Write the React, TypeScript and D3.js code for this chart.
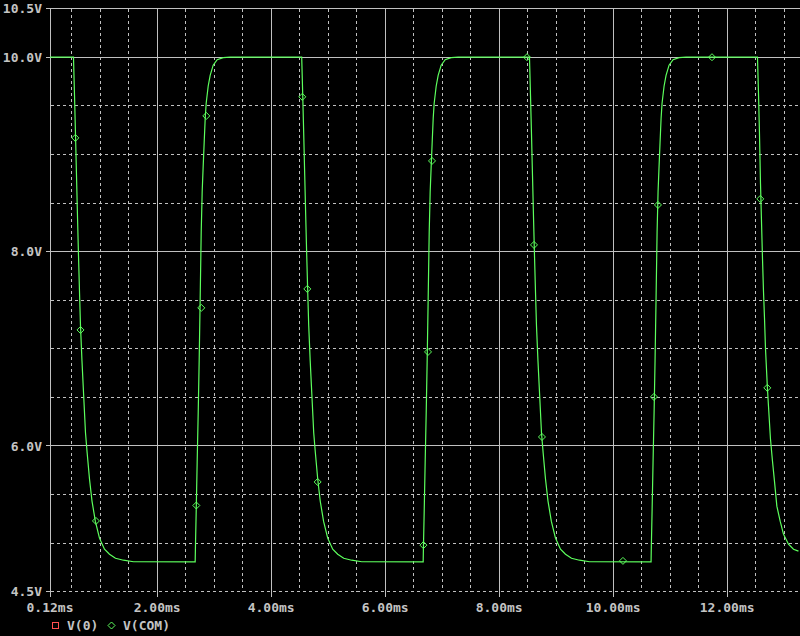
import React from 'react';
import * as d3 from 'd3';

const W = 800;
const H = 636;

// Axis ticks
const xTickValues = [0.12, 2, 4, 6, 8, 10, 12];
const xTickLabels = ['0.12ms', '2.00ms', '4.00ms', '6.00ms', '8.00ms', '10.00ms', '12.00ms'];
const xMinorGrid = [0.5, 1, 1.5, 2.5, 3, 3.5, 4.5, 5, 5.5, 6.5, 7, 7.5, 8.5, 9, 9.5, 10.5, 11, 11.5, 12.5, 13];
const yTickValues = [4.5, 6, 8, 10, 10.5];
const yTickLabels = ['4.5V', '6.0V', '8.0V', '10.0V', '10.5V'];
const ySolidGrid = [6, 8, 10, 10.5];
const yMinorGrid = [4.5, 5, 5.5, 6.5, 7, 7.5, 8.5, 9, 9.5];

// V(COM) trace (time in ms, voltage in V)
const timeMs = [
  0.12,
  0.532, 0.550, 0.567, 0.585, 0.602, 0.620, 0.637, 0.655, 0.681, 0.711, 0.743, 0.772, 0.813, 0.857, 0.915, 0.988, 1.076, 1.164, 1.269, 1.409, 1.585,
  2.667, 2.672, 2.685, 2.702, 2.720, 2.737, 2.755, 2.773, 2.790, 2.808, 2.825, 2.843, 2.860, 2.895, 2.930, 2.983, 3.053, 3.158, 3.281,
  4.536, 4.554, 4.571, 4.589, 4.606, 4.624, 4.641, 4.659, 4.685, 4.715, 4.747, 4.776, 4.817, 4.861, 4.919, 4.992, 5.080, 5.168, 5.273, 5.413, 5.589,
  6.667, 6.672, 6.685, 6.702, 6.720, 6.737, 6.755, 6.773, 6.790, 6.808, 6.825, 6.843, 6.860, 6.895, 6.930, 6.983, 7.053, 7.158, 7.281,
  8.532, 8.550, 8.567, 8.585, 8.602, 8.620, 8.637, 8.655, 8.681, 8.711, 8.743, 8.772, 8.813, 8.857, 8.915, 8.988, 9.076, 9.164, 9.269, 9.409, 9.585,
  10.665, 10.670, 10.683, 10.700, 10.718, 10.735, 10.753, 10.771, 10.788, 10.806, 10.823, 10.841, 10.858, 10.893, 10.928, 10.981, 11.051, 11.156, 11.279,
  12.532, 12.550, 12.567, 12.585, 12.602, 12.620, 12.637, 12.655, 12.672, 12.707, 12.725, 12.760, 12.795, 12.830, 12.872, 12.930, 12.988, 13.076, 13.164, 13.251,
];
const vCom = [
  10.0,
  10.000, 9.608, 9.216, 8.784, 8.371, 7.959, 7.598, 7.237, 6.876, 6.515, 6.134, 5.928, 5.660, 5.433, 5.227, 5.052, 4.938, 4.887, 4.845, 4.825, 4.809,
  4.807, 4.969, 5.330, 5.835, 6.340, 6.876, 7.526, 8.206, 8.619, 8.887, 9.124, 9.371, 9.526, 9.701, 9.814, 9.918, 9.974, 9.995, 10.000,
  10.000, 9.608, 9.216, 8.784, 8.371, 7.959, 7.598, 7.237, 6.876, 6.515, 6.134, 5.928, 5.660, 5.433, 5.227, 5.052, 4.938, 4.887, 4.845, 4.825, 4.809,
  4.807, 4.969, 5.330, 5.835, 6.340, 6.876, 7.526, 8.206, 8.619, 8.887, 9.124, 9.371, 9.526, 9.701, 9.814, 9.918, 9.974, 9.995, 10.000,
  10.000, 9.608, 9.216, 8.784, 8.371, 7.959, 7.598, 7.237, 6.876, 6.515, 6.134, 5.928, 5.660, 5.433, 5.227, 5.052, 4.938, 4.887, 4.845, 4.825, 4.809,
  4.807, 4.969, 5.330, 5.835, 6.340, 6.876, 7.526, 8.206, 8.619, 8.887, 9.124, 9.371, 9.526, 9.701, 9.814, 9.918, 9.974, 9.995, 10.000,
  10.000, 9.629, 9.216, 8.701, 8.320, 7.928, 7.598, 7.320, 7.010, 6.588, 6.412, 6.072, 5.845, 5.639, 5.381, 5.227, 5.093, 4.990, 4.938, 4.918,
];

// Symbol markers placed on the V(COM) trace
const markerTimeMs = [0.564, 0.655, 0.926, 2.687, 2.774, 2.862, 4.546, 4.634, 4.816, 6.671, 6.752, 6.822, 8.488, 8.611, 8.751, 10.172, 10.716, 10.786, 11.734, 12.581, 12.704];
const markerV = [9.170, 7.194, 5.229, 5.388, 7.421, 9.396, 9.592, 7.616, 5.630, 4.980, 6.968, 8.933, 10.000, 8.069, 6.093, 4.818, 6.505, 8.480, 10.000, 8.542, 6.598];

const legendNames = ['V(0)', 'V(COM)'];
const legendColors = ['#ff5050', '#5dff5d'];

const GRID = '#c0c0c0';
const TEXT = '#c4c4c4';
const FONT = '"DejaVu Sans Mono", monospace';

export default function App() {
  const x = d3.scaleLinear().domain([0.12, 13.278]).range([50, 800]);
  const y = d3.scaleLinear().domain([4.5, 10.5]).range([591.8, 8.6]);
  const px = (v: number) => Math.floor(v) + 0.5;

  const pts = timeMs.map((t, i) => [t, vCom[i]] as [number, number]);
  const line = d3.line<[number, number]>().x(d => x(d[0])).y(d => y(d[1]));

  const left = px(x(0.12));
  const bottom = px(y(4.5));
  const top = px(y(10.5));

  const diamond = (cx: number, cy: number, r: number) =>
    `M${cx},${cy - r}L${cx + r},${cy}L${cx},${cy + r}L${cx - r},${cy}Z`;

  return (
    <svg width={W} height={H} style={{ position: 'absolute', left: 0, top: 0, display: 'block' }}>
      <rect x={0} y={0} width={W} height={H} fill="#000" />
      <defs>
        <clipPath id="plot">
          <rect x={50} y={0} width={750} height={592} />
        </clipPath>
      </defs>
      {/* dashed grid */}
      {xMinorGrid.map(v => (
        <line key={'xm' + v} x1={px(x(v))} x2={px(x(v))} y1={top} y2={bottom} stroke={GRID} strokeDasharray="3,3" shapeRendering="crispEdges" />
      ))}
      {yMinorGrid.map(v => (
        <line key={'ym' + v} x1={left} x2={W} y1={px(y(v))} y2={px(y(v))} stroke={GRID} strokeDasharray="3,3" shapeRendering="crispEdges" />
      ))}
      {/* solid grid + ticks */}
      {xTickValues.map(v => (
        <line key={'xs' + v} x1={px(x(v))} x2={px(x(v))} y1={top} y2={bottom + 5} stroke={GRID} shapeRendering="crispEdges" />
      ))}
      {ySolidGrid.map(v => (
        <line key={'ys' + v} x1={left - 5} x2={W} y1={px(y(v))} y2={px(y(v))} stroke={GRID} shapeRendering="crispEdges" />
      ))}
      <line x1={left - 5} x2={left} y1={bottom} y2={bottom} stroke={GRID} shapeRendering="crispEdges" />
      {/* y labels */}
      {yTickValues.map((v, i) => (
        <text key={'yl' + v} x={42} y={y(v) + 4.5} textAnchor="end" fill={TEXT} fontFamily={FONT} fontSize={13} fontWeight="bold">
          {yTickLabels[i]}
        </text>
      ))}
      {/* x labels */}
      {xTickValues.map((v, i) => (
        <text key={'xl' + v} x={x(v)} y={612} textAnchor="middle" fill={TEXT} fontFamily={FONT} fontSize={13} fontWeight="bold">
          {xTickLabels[i]}
        </text>
      ))}
      {/* trace */}
      <g clipPath="url(#plot)">
        <path d={line(pts) || ''} fill="none" stroke={legendColors[1]} strokeWidth={1.2} />
        {markerTimeMs.map((t, i) => (
          <path key={'mk' + i} d={diamond(x(t), y(markerV[i]), 3.5)} fill="none" stroke={legendColors[1]} strokeWidth={1} />
        ))}
      </g>
      {/* legend */}
      <rect x={52.5} y={622.5} width={6} height={6} fill="none" stroke={legendColors[0]} strokeWidth={1} shapeRendering="crispEdges" />
      <text x={67} y={629.5} fill={TEXT} fontFamily={FONT} fontSize={13} fontWeight="bold">{legendNames[0]}</text>
      <path d={diamond(111.5, 625.5, 3.5)} fill="none" stroke={legendColors[1]} strokeWidth={1} />
      <text x={123} y={629.5} fill={TEXT} fontFamily={FONT} fontSize={13} fontWeight="bold">{legendNames[1]}</text>
    </svg>
  );
}
